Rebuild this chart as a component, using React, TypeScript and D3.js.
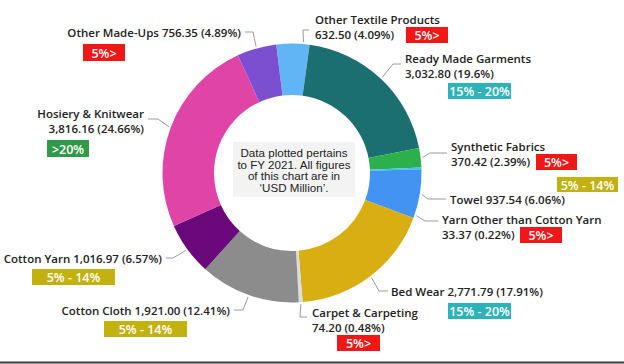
import React from "react";
import * as d3 from "d3";

const categories = [
  "Other Textile Products",
  "Ready Made Garments",
  "Synthetic Fabrics",
  "Yarn Other than Cotton Yarn",
  "Towel",
  "Bed Wear",
  "Carpet & Carpeting",
  "Cotton Cloth",
  "Cotton Yarn",
  "Hosiery & Knitwear",
  "Other Made-Ups",
];
const values = [632.5, 3032.8, 370.42, 33.37, 937.54, 2771.79, 74.2, 1921.0, 1016.97, 3816.16, 756.35];
const valueLabels = ["632.50", "3,032.80", "370.42", "33.37", "937.54", "2,771.79", "74.20", "1,921.00", "1,016.97", "3,816.16", "756.35"];
const percentLabels = ["4.09%", "19.6%", "2.39%", "0.22%", "6.06%", "17.91%", "0.48%", "12.41%", "6.57%", "24.66%", "4.89%"];
const bands = ["5%>", "15% - 20%", "5%>", "5%>", "5% - 14%", "15% - 20%", "5%>", "5% - 14%", "5% - 14%", ">20%", "5%>"];
const centerNote = ["Data plotted pertains", "to FY 2021. All figures", "of this chart are in", "\u2018USD Million\u2019."];

const sliceColors = ["#62b5f4", "#1b6f70", "#2bb04b", "#3cc6ee", "#4293f2", "#d8ae12", "#dcdcdc", "#8c8c8c", "#6a087c", "#e044a7", "#7b4fd0"];
const bandColors: Record<string, string> = {
  "5%>": "#f21616",
  "15% - 20%": "#2fb3bb",
  "5% - 14%": "#c3b10f",
  ">20%": "#2f9a47",
};

// Layout of labels (text position, alignment, leader elbow/end, badge box)
type Lay = {
  two: boolean; tx: number; ty: number; anchor: "start" | "end";
  elbow: [number, number]; end: [number, number]; shift?: number;
  bx: number; by: number; bw: number; bh: number;
};
const layout: Lay[] = [
  { two: true, tx: 315, ty: 19, anchor: "start", elbow: [303, 30], end: [309, 30], shift: 4.6, bx: 406, by: 27, bw: 42, bh: 16 },
  { two: true, tx: 405, ty: 58, anchor: "start", elbow: [393, 64], end: [401, 64], bx: 448, by: 83, bw: 63, bh: 16 },
  { two: true, tx: 451, ty: 146, anchor: "start", elbow: [430, 153], end: [447, 153], bx: 536, by: 154, bw: 41, bh: 16 },
  { two: true, tx: 442, ty: 219, anchor: "start", elbow: [425, 221], end: [438, 221], shift: 21, bx: 520, by: 227, bw: 42, bh: 16 },
  { two: false, tx: 450, ty: 199, anchor: "start", elbow: [428, 199], end: [446, 199], bx: 557, by: 177, bw: 61, bh: 15 },
  { two: false, tx: 391, ty: 291, anchor: "start", elbow: [379, 291], end: [388, 291], bx: 448, by: 303, bw: 63, bh: 16 },
  { two: true, tx: 312, ty: 312, anchor: "start", elbow: [300, 317], end: [307, 317], bx: 337, by: 335, bw: 43, bh: 16 },
  { two: false, tx: 230, ty: 310, anchor: "end", elbow: [243, 310], end: [234, 310], bx: 104, by: 321, bw: 83, bh: 16 },
  { two: false, tx: 162, ty: 258, anchor: "end", elbow: [173, 258], end: [166, 258], bx: 32, by: 269, bw: 83, bh: 16 },
  { two: true, tx: 144, ty: 113, anchor: "end", elbow: [158, 119], end: [148, 119], bx: 47, by: 140, bw: 42, bh: 17 },
  { two: false, tx: 241, ty: 32, anchor: "end", elbow: [253, 32], end: [245, 32], bx: 83, by: 44, bw: 42, bh: 17 },
];

const W = 624, H = 364;
const cx = 292, cy = 173;
const outerR = 129.5, innerR = 78;
const startDeg = -7;

export default function App() {
  const pie = d3
    .pie<number>()
    .sort(null)
    .value((d) => d)
    .startAngle((startDeg * Math.PI) / 180)
    .endAngle((startDeg * Math.PI) / 180 + 2 * Math.PI);
  const arcs = pie(values);
  const arc = d3.arc<d3.PieArcDatum<number>>().innerRadius(innerR).outerRadius(outerR);
  const labelFont = "'Segoe UI', 'Open Sans', 'Noto Sans', sans-serif";
  const fs = 11.5;

  return (
    <svg width={W} height={H} style={{ position: "absolute", left: 0, top: 0, background: "#fff" }}>
      <g transform={`translate(${cx},${cy})`}>
        {arcs.map((a, i) => (
          <path key={i} d={arc(a) || ""} fill={sliceColors[i]} />
        ))}
      </g>
      {/* center note */}
      <rect x={233} y={142} width={122} height={55} fill="#f3f3f3" />
      {centerNote.map((t, i) => (
        <text
          key={i}
          x={294}
          y={152.5 + i * 11.7}
          textAnchor="middle"
          dominantBaseline="central"
          fontFamily="'Liberation Sans', Arial, sans-serif"
          fontSize={11.6}
          fill="#222"
        >
          {t}
        </text>
      ))}
      {arcs.map((a, i) => {
        const L = layout[i];
        const mid = (a.startAngle + a.endAngle) / 2 + ((L.shift || 0) * Math.PI) / 180;
        const r = outerR + 2;
        const sx = cx + r * Math.sin(mid);
        const sy = cy - r * Math.cos(mid);
        const line = d3.line()([[sx, sy], L.elbow, L.end]) || "";
        const name = categories[i];
        const val = `${valueLabels[i]} (${percentLabels[i]})`;
        const band = bands[i];
        return (
          <g key={i}>
            <path d={line} fill="none" stroke="#9a9a9a" strokeWidth={1} />
            {L.two ? (
              <>
                <text x={L.tx} y={L.ty} textAnchor={L.anchor} dominantBaseline="central" fontFamily={labelFont} fontWeight={600} fontSize={fs} fill="#222">{name}</text>
                <text x={L.tx} y={L.ty + 15.5} textAnchor={L.anchor} dominantBaseline="central" fontFamily={labelFont} fontWeight={600} fontSize={fs} fill="#222">{val}</text>
              </>
            ) : (
              <text x={L.tx} y={L.ty} textAnchor={L.anchor} dominantBaseline="central" fontFamily={labelFont} fontWeight={600} fontSize={fs} fill="#222">{`${name} ${val}`}</text>
            )}
            <rect x={L.bx} y={L.by} width={L.bw} height={L.bh} fill={bandColors[band]} />
            <text
              x={L.bx + L.bw / 2}
              y={L.by + L.bh / 2 + 0.5}
              textAnchor="middle"
              dominantBaseline="central"
              fontFamily={labelFont}
              fontWeight={600}
              fontSize={12.5}
              fill="#fff"
            >
              {band}
            </text>
          </g>
        );
      })}
      <line x1={0} x2={W} y1={362.5} y2={362.5} stroke="#3c3c3c" strokeWidth={2} />
    </svg>
  );
}
